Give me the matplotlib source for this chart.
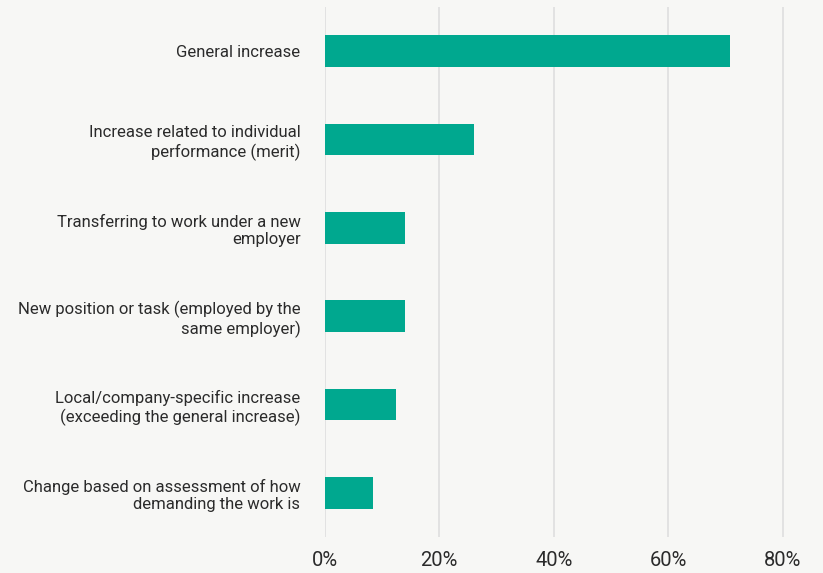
import matplotlib
matplotlib.use("Agg")
import matplotlib.pyplot as plt
from matplotlib.ticker import FuncFormatter

categories = [
    "General increase",
    "Increase related to individual\nperformance (merit)",
    "Transferring to work under a new\nemployer",
    "New position or task (employed by the\nsame employer)",
    "Local/company-specific increase\n(exceeding the general increase)",
    "Change based on assessment of how\ndemanding the work is",
]
values = [70.8, 26.1, 14.1, 14.0, 12.5, 8.4]
ticks = [0, 20, 40, 60, 80]

bg = "#f7f7f5"
bar_color = "#00a88f"
text_color = "#2b2b2b"

plt.rcParams["font.family"] = ["Roboto", "DejaVu Sans"]

fig = plt.figure(figsize=(8.23, 5.73), dpi=100, facecolor=bg)
ax = fig.add_axes([324.5 / 823, 1 - 537 / 573, 1 - 324.5 / 823, 530 / 573])
ax.set_facecolor(bg)

pos = list(range(len(categories)))
ax.barh(pos, values, height=0.357, color=bar_color, zorder=3)
ax.set_ylim(len(categories) - 0.5, -0.5)
ax.set_xlim(0, 87)
ax.set_yticks(pos)
ax.set_yticklabels(categories, fontsize=12, color=text_color, linespacing=1.22)
ax.set_xticks(ticks)
ax.xaxis.set_major_formatter(FuncFormatter(lambda v, p: f"{v:.0f}%"))
ax.tick_params(axis="x", labelsize=14.5, colors=text_color, length=0, pad=10)
ax.tick_params(axis="y", length=0, pad=17.3)
for s in ax.spines.values():
    s.set_visible(False)
ax.grid(axis="x", color="#e0e0e0", linewidth=1.3, zorder=0)
ax.set_axisbelow(True)

fig.savefig("out.png", dpi=100, facecolor=bg)
